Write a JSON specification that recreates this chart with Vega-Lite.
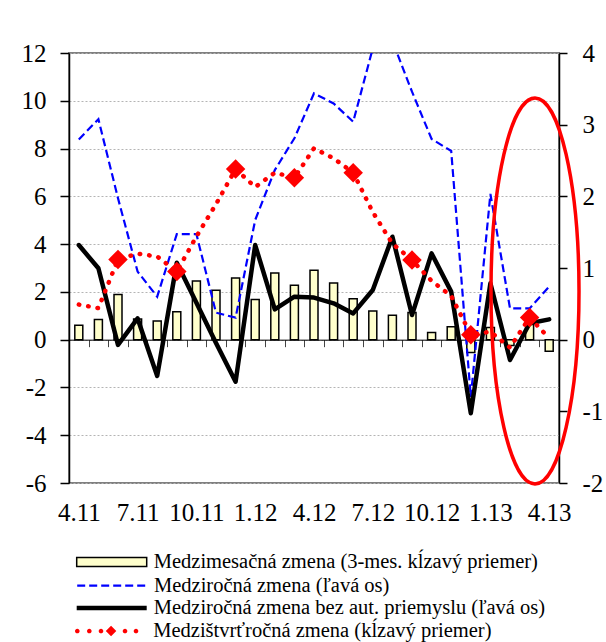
{
  "$schema": "https://vega.github.io/schema/vega-lite/v6.json",
  "width": 490,
  "height": 430,
  "autosize": {"type": "none"},
  "padding": {"left": 69, "top": 53, "right": 47, "bottom": 159},
  "background": "white",
  "config": {
    "view": {"stroke": "#808080", "strokeWidth": 2},
    "font": "Liberation Serif",
    "axis": {"labelFont": "Liberation Serif"},
    "legend": {"labelFont": "Liberation Serif"}
  },
  "data": {
    "values": [
      {"month": "4.11", "mom": 0.20, "yoy": 8.38, "yoyx": 3.96, "qoq": 0.49},
      {"month": "5.11", "mom": 0.28, "yoy": 9.23, "yoyx": 2.99, "qoq": 0.44},
      {"month": "6.11", "mom": 0.63, "yoy": 5.92, "yoyx": -0.22, "qoq": 1.12},
      {"month": "7.11", "mom": 0.29, "yoy": 2.85, "yoyx": 0.89, "qoq": 1.20},
      {"month": "8.11", "mom": 0.26, "yoy": 1.80, "yoyx": -1.52, "qoq": 1.16},
      {"month": "9.11", "mom": 0.39, "yoy": 4.42, "yoyx": 3.22, "qoq": 0.95},
      {"month": "10.11", "mom": 0.82, "yoy": 4.42, "yoyx": 1.55, "qoq": 1.44},
      {"month": "11.11", "mom": 0.69, "yoy": 1.13, "yoyx": -0.14, "qoq": 1.89},
      {"month": "12.11", "mom": 0.86, "yoy": 0.92, "yoyx": -1.76, "qoq": 2.38},
      {"month": "1.12", "mom": 0.56, "yoy": 5.01, "yoyx": 3.96, "qoq": 2.13},
      {"month": "2.12", "mom": 0.93, "yoy": 7.10, "yoyx": 1.27, "qoq": 2.33},
      {"month": "3.12", "mom": 0.76, "yoy": 8.43, "yoyx": 1.80, "qoq": 2.26},
      {"month": "4.12", "mom": 0.97, "yoy": 10.31, "yoyx": 1.76, "qoq": 2.67},
      {"month": "5.12", "mom": 0.79, "yoy": 9.89, "yoyx": 1.52, "qoq": 2.53},
      {"month": "6.12", "mom": 0.57, "yoy": 9.12, "yoyx": 1.10, "qoq": 2.33},
      {"month": "7.12", "mom": 0.40, "yoy": 12.2, "yoyx": 2.08, "qoq": 1.78},
      {"month": "8.12", "mom": 0.34, "yoy": 12.5, "yoyx": 4.31, "qoq": 1.34},
      {"month": "9.12", "mom": 0.38, "yoy": 10.38, "yoyx": 1.03, "qoq": 1.11},
      {"month": "10.12", "mom": 0.10, "yoy": 8.40, "yoyx": 3.61, "qoq": 0.82},
      {"month": "11.12", "mom": 0.18, "yoy": 7.90, "yoyx": 2.01, "qoq": 0.61},
      {"month": "12.12", "mom": -0.18, "yoy": -2.4, "yoyx": -3.08, "qoq": 0.07},
      {"month": "1.13", "mom": 0.17, "yoy": 6.1, "yoyx": 2.36, "qoq": 0.11},
      {"month": "2.13", "mom": -0.08, "yoy": 1.31, "yoyx": -0.85, "qoq": -0.11},
      {"month": "3.13", "mom": 0.21, "yoy": 1.31, "yoyx": 0.69, "qoq": 0.31},
      {"month": "4.13", "mom": -0.16, "yoy": 2.22, "yoyx": 0.85, "qoq": 0.02}
    ]
  },
  "encoding": {
    "x": {
      "field": "month",
      "type": "ordinal",
      "scale": {
        "domain": ["4.11","5.11","6.11","7.11","8.11","9.11","10.11","11.11","12.11","1.12","2.12","3.12","4.12","5.12","6.12","7.12","8.12","9.12","10.12","11.12","12.12","1.13","2.13","3.13","4.13"],
        "paddingInner": 0,
        "paddingOuter": 0
      },
      "axis": {
        "title": null,
        "orient": "bottom",
        "offset": -143.33,
        "domainColor": "black",
        "domainWidth": 1,
        "tickBand": "extent",
        "tickSize": 7,
        "tickColor": "#444444",
        "tickWidth": 1,
        "labelAngle": 0,
        "labelFont": "Liberation Serif",
        "labelFontSize": 25,
        "labelColor": "black",
        "labelPadding": 154,
        "labelOverlap": false,
        "labelBound": false,
        "labelExpr": "indexof(['4.11','7.11','10.11','1.12','4.12','7.12','10.12','1.13','4.13'], datum.value) >= 0 ? datum.value : ''"
      }
    }
  },
  "layer": [
    {
      "mark": {"type": "bar", "size": 8, "stroke": "black", "strokeWidth": 1.5},
      "encoding": {
        "y": {
          "field": "mom",
          "type": "quantitative",
          "scale": {"domain": [-2, 4], "nice": false, "zero": false},
          "axis": {
            "title": null,
            "orient": "right",
            "values": [-2, -1, 0, 1, 2, 3, 4],
            "grid": false,
            "domainColor": "black",
            "domainWidth": 1.5,
            "tickColor": "black",
            "tickWidth": 1.5,
            "tickSize": 8,
            "labelFont": "Liberation Serif",
            "labelFontSize": 25,
            "labelColor": "black",
            "labelPadding": 15,
            "labelExpr": "toString(datum.value)"
          }
        },
        "fill": {
          "datum": "Medzimesačná zmena (3-mes. kĺzavý priemer)",
          "scale": {"range": ["#ffffcc"]},
          "legend": {
            "title": null,
            "orient": "none",
            "legendX": 6.7,
            "legendY": 473,
            "padding": 0,
            "symbolType": "M-1,-0.13H1V0.13H-1Z",
            "symbolSize": 4900,
            "symbolStrokeColor": "black",
            "symbolStrokeWidth": 1.5,
            "labelFont": "Liberation Serif",
            "labelFontSize": 20.5,
            "labelColor": "black",
            "labelOffset": 6,
            "labelLimit": 600
          }
        }
      }
    },
    {
      "resolve": {"scale": {"stroke": "independent"}},
      "encoding": {
        "y": {
          "type": "quantitative",
          "scale": {"domain": [-6, 12], "nice": false, "zero": false}
        }
      },
      "layer": [
        {
          "mark": {"type": "line", "strokeWidth": 2.2, "strokeDash": [8, 4], "clip": true},
          "encoding": {
            "y": {
              "field": "yoy",
              "type": "quantitative",
              "scale": {"domain": [-6, 12], "nice": false, "zero": false},
              "axis": {
                "title": null,
                "orient": "left",
                "values": [-6, -4, -2, 0, 2, 4, 6, 8, 10, 12],
                "grid": true,
                "gridDash": [2, 2],
                "gridColor": "#b4b4b4",
                "gridWidth": 1,
                "domainColor": "black",
                "domainWidth": 1.5,
                "tickColor": "black",
                "tickWidth": 1.5,
                "tickSize": 9,
                "labelFont": "Liberation Serif",
                "labelFontSize": 25,
                "labelColor": "black",
                "labelPadding": 14,
                "labelExpr": "toString(datum.value)"
              }
            },
            "stroke": {
              "datum": "Medziročná zmena (ľavá os)",
              "scale": {"range": ["#0000ff"]},
              "legend": {
                "title": null,
                "orient": "none",
                "legendX": 6.7,
                "legendY": 496.2,
                "padding": 0,
                "symbolType": "stroke",
                "symbolSize": 4900,
                "symbolStrokeWidth": 2.2,
                "symbolDash": [8, 4],
                "labelFont": "Liberation Serif",
                "labelFontSize": 20.5,
                "labelColor": "black",
                "labelOffset": 5.3,
                "labelLimit": 600
              }
            }
          }
        },
        {
          "mark": {"type": "line", "strokeWidth": 4.5, "strokeJoin": "round", "strokeCap": "round"},
          "encoding": {
            "y": {"field": "yoyx", "type": "quantitative", "scale": {"domain": [-6, 12], "nice": false, "zero": false}},
            "stroke": {
              "datum": "Medziročná zmena bez aut. priemyslu (ľavá os)",
              "scale": {"range": ["#000000"]},
              "legend": {
                "title": null,
                "orient": "none",
                "legendX": 5.2,
                "legendY": 517.5,
                "padding": 0,
                "symbolType": "stroke",
                "symbolSize": 4900,
                "symbolStrokeWidth": 4.5,
                "labelFont": "Liberation Serif",
                "labelFontSize": 20.5,
                "labelColor": "black",
                "labelOffset": 4.5,
                "labelLimit": 600
              }
            }
          }
        }
      ]
    },
    {
      "layer": [
        {
          "mark": {"type": "line", "stroke": "#ff0000", "strokeWidth": 4.5, "strokeDash": [0.5, 9], "strokeCap": "round"},
          "encoding": {
            "y": {"field": "qoq", "type": "quantitative", "scale": {"domain": [-2, 4], "nice": false, "zero": false}, "axis": null}
          }
        },
        {
          "transform": [{"filter": {"field": "month", "oneOf": ["6.11","9.11","12.11","3.12","6.12","9.12","12.12","3.13"]}}],
          "mark": {"type": "point", "shape": "diamond", "filled": true, "size": 380, "opacity": 1, "strokeWidth": 0},
          "encoding": {
            "y": {"field": "qoq", "type": "quantitative", "scale": {"domain": [-2, 4], "nice": false, "zero": false}, "axis": null},
            "fill": {
              "datum": "Medzištvrťročná zmena (kĺzavý priemer)",
              "scale": {"range": ["#ff0000"]},
              "legend": {
                "title": null,
                "orient": "none",
                "legendX": 6.7,
                "legendY": 543,
                "padding": 0,
                "symbolType": "M-1.02,0A0.066,0.066 0 1,0 -0.888,0A0.066,0.066 0 1,0 -1.02,0ZM-0.677,0A0.066,0.066 0 1,0 -0.545,0A0.066,0.066 0 1,0 -0.677,0ZM-0.343,0A0.066,0.066 0 1,0 -0.211,0A0.066,0.066 0 1,0 -0.343,0ZM0.343,0A0.066,0.066 0 1,0 0.475,0A0.066,0.066 0 1,0 0.343,0ZM0.657,0A0.066,0.066 0 1,0 0.789,0A0.066,0.066 0 1,0 0.657,0ZM0.01,-0.15L0.16,0L0.01,0.15L-0.14,0Z",
                "symbolSize": 4900,
                "symbolStrokeWidth": 0,
                "symbolFillColor": "#ff0000",
                "labelFont": "Liberation Serif",
                "labelFontSize": 20.5,
                "labelColor": "black",
                "labelOffset": 7.5,
                "labelLimit": 600
              }
            }
          }
        },
        {
          "data": {"values": [{"month": "3.13", "v": 0.68}]},
          "mark": {
            "type": "point",
            "shape": "M0.028,-1C0.154,-1 0.256,-0.552 0.256,0C0.256,0.552 0.154,1 0.028,1C-0.098,1 -0.2,0.552 -0.2,0C-0.2,-0.552 -0.098,-1 0.028,-1Z",
            "size": 148996,
            "filled": false,
            "stroke": "#ff0000",
            "strokeWidth": 3.5,
            "opacity": 1
          },
          "encoding": {
            "y": {"field": "v", "type": "quantitative", "scale": {"domain": [-2, 4], "nice": false, "zero": false}, "axis": null}
          }
        }
      ]
    }
  ],
  "resolve": {"scale": {"y": "independent", "fill": "independent"}}
}
